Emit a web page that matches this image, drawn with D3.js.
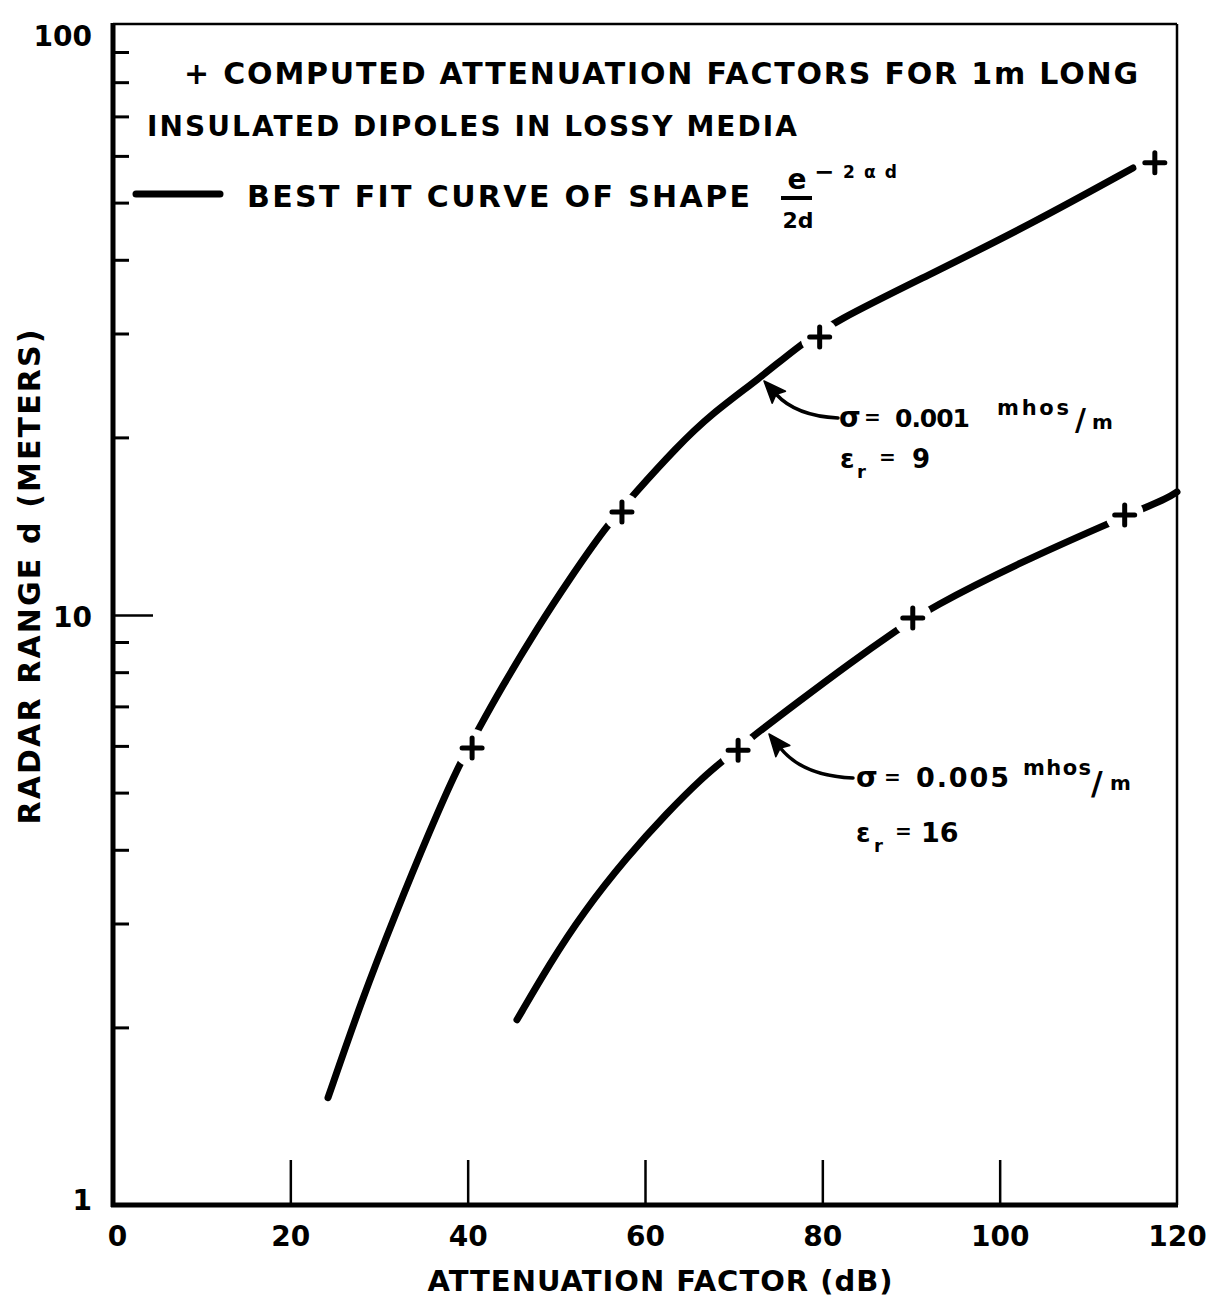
<!DOCTYPE html>
<html>
<head>
<meta charset="utf-8">
<script src="https://cdn.jsdelivr.net/npm/d3@7"></script>
<style>
  html, body { margin: 0; padding: 0; background: #fff; }
  svg { display: block; }
  text { font-family: "DejaVu Sans", sans-serif; font-weight: bold; fill: #000; }
</style>
</head>
<body>
<svg id="chart" width="1216" height="1299"></svg>
<script>
// Best-fit curve, sigma = 0.001 mhos/m, eps_r = 9
const lowLossAtten = [24.25, 28.08, 31.80, 35.75, 38.90, 41.16, 43.65, 47.93, 51.43, 55.49, 58.87, 63.61, 67.33, 72.97, 77.03, 81.20, 92.48, 103.76, 115.04];
const lowLossRange = [1.52, 2.23, 3.10, 4.32, 5.53, 6.38, 7.46, 9.54, 11.47, 14.05, 16.10, 19.27, 21.83, 25.22, 28.35, 31.38, 37.99, 46.17, 57.23];
// Computed attenuation factors, sigma = 0.001
const lowLossComputedAtten = [40.5, 57.4, 79.7, 117.5];
const lowLossComputedRange = [5.95, 14.95, 29.6, 58.4];

// Best-fit curve, sigma = 0.005 mhos/m, eps_r = 16
const highLossAtten = [45.56, 49.29, 53.01, 57.97, 62.48, 66.54, 68.91, 71.62, 77.25, 83.12, 88.42, 92.14, 102.40, 112.67, 115.83, 118.98, 120.0];
const highLossRange = [2.06, 2.57, 3.13, 3.89, 4.62, 5.31, 5.68, 6.14, 7.12, 8.29, 9.43, 10.28, 12.30, 14.38, 15.07, 15.79, 16.17];
// Computed attenuation factors, sigma = 0.005
const highLossComputedAtten = [70.5, 90.2, 114.1];
const highLossComputedRange = [5.9, 9.88, 14.77];

// Axis ticks
const xTickLabels = [0, 20, 40, 60, 80, 100, 120];
const xInnerTicks = [20, 40, 60, 80, 100];
const yTickLabels = [1, 10, 100];
const yMajorTicks = [10];
const yMinorTicks = [2, 3, 4, 5, 6, 7, 8, 9, 20, 30, 40, 50, 60, 70, 80, 90];

const svg = d3.select("#chart");
const plotLeft = 113, plotRight = 1177, plotTop = 25, plotBottom = 1205;

const x = d3.scaleLinear().domain([0, 120]).range([plotLeft, plotRight]);
const y = d3.scaleLog().domain([1, 100]).range([plotBottom, plotTop]);

// ---- frame ----
svg.append("line").attr("x1", plotLeft).attr("x2", plotRight).attr("y1", plotTop - 1).attr("y2", plotTop - 1)
  .attr("stroke", "#000").attr("stroke-width", 2.5);
svg.append("line").attr("x1", plotRight).attr("x2", plotRight).attr("y1", plotTop - 1).attr("y2", plotBottom)
  .attr("stroke", "#000").attr("stroke-width", 2.5);

// ---- y axis ----
function styleAxis(g) {
  g.select(".domain").remove();
  g.selectAll("text").attr("font-family", "DejaVu Sans, sans-serif").attr("font-weight", "bold");
}
svg.append("g").attr("transform", `translate(${plotLeft},0)`)
  .call(d3.axisLeft(y).tickValues(yMinorTicks).tickSize(-16).tickFormat(""))
  .call(styleAxis)
  .selectAll("line").attr("stroke-width", 3);
svg.append("g").attr("transform", `translate(${plotLeft},0)`)
  .call(d3.axisLeft(y).tickValues(yMajorTicks).tickSize(-40).tickFormat(""))
  .call(styleAxis)
  .selectAll("line").attr("stroke-width", 2.5);
const yLab = svg.append("g").attr("transform", `translate(${plotLeft},0)`)
  .call(d3.axisLeft(y).tickValues(yTickLabels).tickSize(0).tickPadding(21).tickFormat(d3.format("d")))
  .call(styleAxis);
yLab.attr("font-size", 28);
yLab.selectAll("text").attr("dy", d => d === 100 ? "0.72em" : d === 1 ? "0.15em" : "0.4em");

// ---- x axis ----
svg.append("g").attr("transform", `translate(0,${plotBottom})`)
  .call(d3.axisBottom(x).tickValues(xInnerTicks).tickSize(-45).tickFormat(""))
  .call(styleAxis)
  .selectAll("line").attr("stroke-width", 2.5);
const xLab = svg.append("g").attr("transform", `translate(0,${plotBottom})`)
  .call(d3.axisBottom(x).tickValues(xTickLabels).tickSize(0).tickPadding(21).tickFormat(d3.format("d")))
  .call(styleAxis);
xLab.attr("font-size", 28);
xLab.selectAll("text").attr("dx", d => d === 0 ? 4 : 0);

// thick left and bottom axis lines
svg.append("line").attr("x1", plotLeft).attr("x2", plotLeft).attr("y1", plotTop - 2).attr("y2", plotBottom + 2)
  .attr("stroke", "#000").attr("stroke-width", 5);
svg.append("line").attr("x1", plotLeft - 2).attr("x2", plotRight + 1).attr("y1", plotBottom).attr("y2", plotBottom)
  .attr("stroke", "#000").attr("stroke-width", 5);

// ---- axis titles ----
svg.append("text").attr("x", 660).attr("y", 1291).attr("text-anchor", "middle")
  .attr("font-size", 29).attr("textLength", 465).attr("lengthAdjust", "spacing")
  .text("ATTENUATION FACTOR (dB)");
svg.append("text").attr("transform", "translate(40,577) rotate(-90)").attr("text-anchor", "middle")
  .attr("font-size", 30).attr("textLength", 495).attr("lengthAdjust", "spacing")
  .text("RADAR RANGE d (METERS)");

// ---- best-fit curves ----
const zip = (a, b) => a.map((v, i) => [v, b[i]]);
const lowLoss = zip(lowLossAtten, lowLossRange);
const highLoss = zip(highLossAtten, highLossRange);
const lowPts = zip(lowLossComputedAtten, lowLossComputedRange);
const highPts = zip(highLossComputedAtten, highLossComputedRange);
const allPts = lowPts.concat(highPts);

const line = d3.line().x(d => x(d[0])).y(d => y(d[1])).curve(d3.curveBasis);
svg.append("g").selectAll("path").data([lowLoss, highLoss]).join("path")
  .attr("d", line).attr("fill", "none").attr("stroke", "#000")
  .attr("stroke-width", 7).attr("stroke-linecap", "round").attr("stroke-linejoin", "round");

// break the curves around each computed point
svg.append("g").selectAll("circle").data(allPts).join("circle")
  .attr("cx", d => x(d[0])).attr("cy", d => y(d[1])).attr("r", 19).attr("fill", "#fff");

// plus markers
svg.append("g").selectAll("path").data(allPts).join("path")
  .attr("transform", d => `translate(${x(d[0])},${y(d[1])})`)
  .attr("d", "M-10,0H10M0,-10V10")
  .attr("stroke", "#000").attr("stroke-width", 5).attr("stroke-linecap", "round");

// ---- legend / heading ----
svg.append("text").attr("x", 184).attr("y", 84).attr("font-size", 30)
  .attr("textLength", 954).attr("lengthAdjust", "spacing")
  .text("+ COMPUTED ATTENUATION FACTORS FOR 1m LONG");
svg.append("text").attr("x", 147).attr("y", 136).attr("font-size", 28)
  .attr("textLength", 650).attr("lengthAdjust", "spacing")
  .text("INSULATED DIPOLES IN LOSSY MEDIA");
svg.append("line").attr("x1", 136).attr("x2", 220).attr("y1", 194).attr("y2", 194)
  .attr("stroke", "#000").attr("stroke-width", 7).attr("stroke-linecap", "round");
svg.append("text").attr("x", 247).attr("y", 207).attr("font-size", 30)
  .attr("textLength", 503).attr("lengthAdjust", "spacing")
  .text("BEST FIT CURVE OF SHAPE");
// e^(-2αd) / 2d
svg.append("text").attr("x", 797).attr("y", 189).attr("text-anchor", "middle").attr("font-size", 28).text("e");
svg.append("line").attr("x1", 781).attr("x2", 812).attr("y1", 198).attr("y2", 198)
  .attr("stroke", "#000").attr("stroke-width", 4);
svg.append("text").attr("x", 798).attr("y", 228).attr("text-anchor", "middle").attr("font-size", 22)
  .text("2d");
svg.append("text").attr("x", 814).attr("y", 180).attr("font-size", 24).text("−");
svg.append("text").attr("x", 843).attr("y", 178).attr("font-size", 17)
  .attr("textLength", 54).attr("lengthAdjust", "spacing").text("2αd");

// ---- annotations ----
function arrow(start, ctrl, tip) {
  const dx = tip[0] - ctrl[0], dy = tip[1] - ctrl[1];
  const len = Math.hypot(dx, dy), ux = dx / len, uy = dy / len;
  const headLen = 22, headHalf = 9;
  const base = [tip[0] - ux * headLen, tip[1] - uy * headLen];
  const p = d3.path();
  p.moveTo(start[0], start[1]);
  p.quadraticCurveTo(ctrl[0], ctrl[1], base[0] + ux * 4, base[1] + uy * 4);
  svg.append("path").attr("d", p.toString()).attr("fill", "none")
    .attr("stroke", "#000").attr("stroke-width", 3.5).attr("stroke-linecap", "round");
  const h = d3.path();
  h.moveTo(tip[0], tip[1]);
  h.lineTo(base[0] - uy * headHalf, base[1] + ux * headHalf);
  h.lineTo(base[0] + ux * 4, base[1] + uy * 4);
  h.lineTo(base[0] + uy * headHalf, base[1] - ux * headHalf);
  h.closePath();
  svg.append("path").attr("d", h.toString()).attr("fill", "#000")
    .attr("stroke", "#000").attr("stroke-width", 1.5).attr("stroke-linejoin", "round");
}

function label(parts) {
  parts.forEach(([txt, px, py, size, width]) => {
    const t = svg.append("text").attr("x", px).attr("y", py).attr("font-size", size).text(txt);
    if (width) t.attr("textLength", width).attr("lengthAdjust", "spacing");
  });
}

arrow([838, 418], [796, 416], [764, 381]);
label([
  ["σ", 839, 427, 28],
  ["=", 864, 424, 20],
  ["0.001", 895, 427, 25, 75],
  ["mhos", 997, 415, 21, 72],
  ["/", 1075, 430, 30],
  ["m", 1092, 429, 20],
  ["ε", 840, 468, 26],
  ["r", 857, 478, 18],
  ["=", 879, 464, 20],
  ["9", 912, 468, 26]
]);

arrow([853, 778], [803, 776], [769, 734]);
label([
  ["σ", 856, 787, 28],
  ["=", 884, 784, 20],
  ["0.005", 916, 787, 27, 93],
  ["mhos", 1023, 775, 21, 68],
  ["/", 1091, 794, 32],
  ["m", 1110, 790, 20],
  ["ε", 856, 842, 26],
  ["r", 874, 852, 18],
  ["=", 895, 838, 20],
  ["16", 921, 842, 27]
]);
</script>
</body>
</html>
